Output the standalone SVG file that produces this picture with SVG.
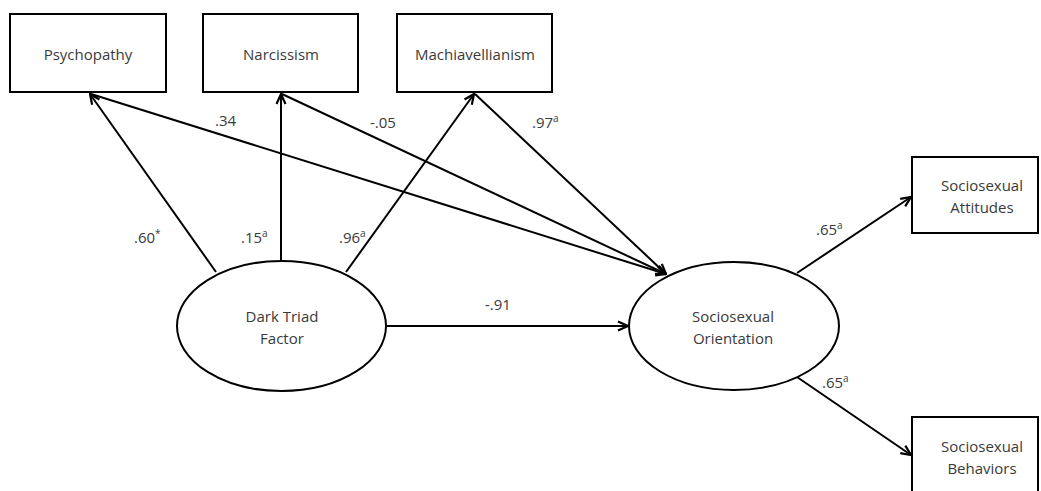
<svg xmlns="http://www.w3.org/2000/svg" width="1041" height="491" viewBox="0 0 1041 491">
  <defs>
    <style>
      .box { fill: #ffffff; stroke: #000000; stroke-width: 2; }
      .ell { fill: #ffffff; stroke: #000000; stroke-width: 2; }
      .lbl { font-family: "Open Sans", "Liberation Sans", sans-serif; font-size: 15px; fill: #3a3a3a; text-anchor: middle; }
      .coef { font-family: "Open Sans", "Liberation Sans", sans-serif; font-size: 15px; fill: #3a3a3a; }
      .sup { font-size: 10px; }
      .edge { stroke: #000000; stroke-width: 2; fill: none; marker-end: url(#arrow); }
    </style>
    <marker id="arrow" markerUnits="userSpaceOnUse" viewBox="0 0 12 12" refX="11" refY="6" markerWidth="12" markerHeight="12" orient="auto">
      <path d="M1,1.5 L11,6 L1,10.5" fill="none" stroke="#000000" stroke-width="2.2"/>
    </marker>
  </defs>
  <rect width="1041" height="491" fill="#ffffff"/>

  <g id="connectors">
    <line class="edge" x1="216" y1="272" x2="90" y2="94"/>
    <line class="edge" x1="281" y1="261" x2="281" y2="94"/>
    <line class="edge" x1="346" y1="272" x2="474" y2="94"/>
    <line class="edge" x1="91" y1="94" x2="666" y2="274"/>
    <line class="edge" x1="282" y1="94" x2="666" y2="274"/>
    <line class="edge" x1="475" y1="94" x2="666" y2="274"/>
    <line class="edge" x1="386" y1="326" x2="628" y2="326"/>
    <line class="edge" x1="797" y1="273" x2="911" y2="197"/>
    <line class="edge" x1="797" y1="377" x2="911" y2="455"/>
    <text class="coef" x="215" y="126">.34</text>
    <text class="coef" x="370" y="128">-.05</text>
    <text class="coef" x="532" y="128">.97<tspan class="sup" dy="-6">a</tspan></text>
    <text class="coef" x="134" y="243">.60<tspan class="sup" dy="-6">*</tspan></text>
    <text class="coef" x="241" y="243">.15<tspan class="sup" dy="-6">a</tspan></text>
    <text class="coef" x="339" y="243">.96<tspan class="sup" dy="-6">a</tspan></text>
    <text class="coef" x="485" y="310">-.91</text>
    <text class="coef" x="816" y="235">.65<tspan class="sup" dy="-6">a</tspan></text>
    <text class="coef" x="822" y="388">.65<tspan class="sup" dy="-6">a</tspan></text>
  </g>

  <g id="psychopathy">
    <rect class="box" x="10" y="14" width="156" height="78"/>
    <text class="lbl" x="88" y="60">Psychopathy</text>
  </g>
  <g id="narcissism">
    <rect class="box" x="203" y="14" width="155" height="78"/>
    <text class="lbl" x="281" y="60">Narcissism</text>
  </g>
  <g id="machiavellianism">
    <rect class="box" x="397" y="14" width="155" height="78"/>
    <text class="lbl" x="475" y="60">Machiavellianism</text>
  </g>
  <g id="dark-triad">
    <ellipse class="ell" cx="281.5" cy="326" rx="104.5" ry="65"/>
    <text class="lbl" x="282" y="322">Dark Triad</text>
    <text class="lbl" x="282" y="344">Factor</text>
  </g>
  <g id="sociosexual-orientation">
    <ellipse class="ell" cx="734" cy="326" rx="105" ry="64"/>
    <text class="lbl" x="733" y="322">Sociosexual</text>
    <text class="lbl" x="733" y="344">Orientation</text>
  </g>
  <g id="sociosexual-attitudes">
    <rect class="box" x="912" y="157" width="126" height="76"/>
    <text class="lbl" x="982" y="191">Sociosexual</text>
    <text class="lbl" x="982" y="213">Attitudes</text>
  </g>
  <g id="sociosexual-behaviors">
    <rect class="box" x="912" y="417" width="126" height="80"/>
    <text class="lbl" x="982" y="452">Sociosexual</text>
    <text class="lbl" x="982" y="474">Behaviors</text>
  </g>
</svg>
